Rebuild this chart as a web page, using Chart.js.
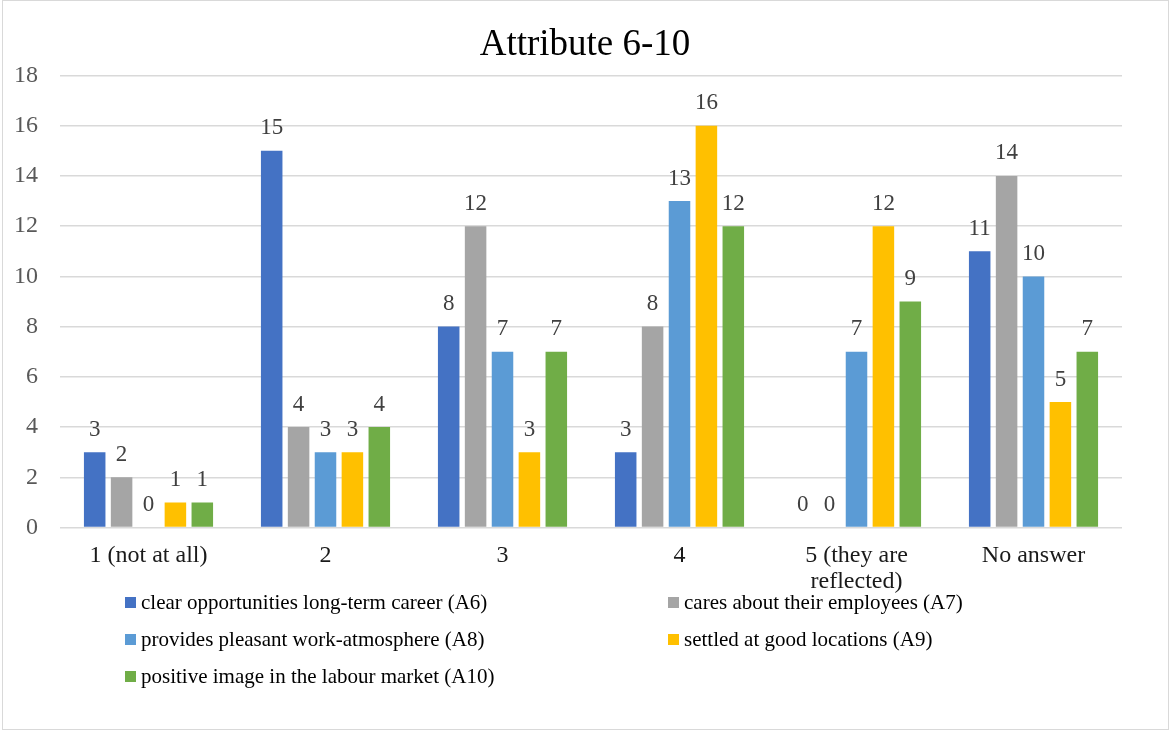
<!DOCTYPE html>
<html>
<head>
<meta charset="utf-8">
<script src="https://cdn.jsdelivr.net/npm/chart.js@4"></script>
<style>
  body { margin: 0; background: #fff; }
  #frame { position: absolute; left: 2px; top: 0; width: 1165px; height: 728px; border: 1.5px solid #d9d9d9; }
  #wrap { position: absolute; left: 0; top: 0; width: 1170px; height: 731px; }
  .leg { position: absolute; font-family: "Liberation Serif", "Times New Roman", serif; font-size: 21px; color: #000; white-space: nowrap; }
  .leg span { display: inline-block; width: 11px; height: 11px; margin-right: 5px; vertical-align: 1px; }
</style>
</head>
<body>
<div id="frame"></div>
<div id="wrap"><canvas id="attrChart"></canvas></div>
<div id="legend"></div>
<script>
//================ data ================
var categories = ['1 (not at all)', '2', '3', '4', ['5 (they are', 'reflected)'], 'No answer'];
var seriesNames = [
    'clear opportunities long-term career (A6)',
    'cares about their employees (A7)',
    'provides pleasant work-atmosphere (A8)',
    'settled at good locations (A9)',
    'positive image in the labour market (A10)'
];
var valuesA6 = [3, 15, 8, 3, 0, 11];
var valuesA7 = [2, 4, 12, 8, 0, 14];
var valuesA8 = [0, 3, 7, 13, 7, 10];
var valuesA9 = [1, 3, 3, 16, 12, 5];
var valuesA10 = [1, 4, 7, 12, 9, 7];
var yTicks = [0, 2, 4, 6, 8, 10, 12, 14, 16, 18];

var colors = ['#4472C4', '#A5A5A5', '#5B9BD5', '#FFC000', '#70AD47'];
var allValues = [valuesA6, valuesA7, valuesA8, valuesA9, valuesA10];

var serif = '"Liberation Serif", "Times New Roman", serif';

//================ value labels above bars ================
var barLabels = {
    id: 'barLabels',
    afterDatasetsDraw: function(chart) {
        var ctx = chart.ctx;
        ctx.save();
        ctx.font = '23px ' + serif;
        ctx.fillStyle = '#404040';
        ctx.textAlign = 'center';
        ctx.textBaseline = 'bottom';
        chart.data.datasets.forEach(function(ds, i) {
            chart.getDatasetMeta(i).data.forEach(function(bar, j) {
                ctx.fillText(ds.data[j], bar.x, bar.y - 11);
            });
        });
        ctx.restore();
    }
};

var datasets = allValues.map(function(v, i) {
    return {
        label: seriesNames[i],
        data: v,
        backgroundColor: colors[i],
        borderWidth: 0,
        barPercentage: 0.8,
        categoryPercentage: 0.76
    };
});

var chrt = document.getElementById('attrChart').getContext('2d');
var attrChart = new Chart(chrt, {
    type: 'bar',
    data: { labels: categories, datasets: datasets },
    options: {
        responsive: true,
        maintainAspectRatio: false,
        animation: false,
        layout: { padding: { left: 14, right: 14, top: 12, bottom: 121 } },
        plugins: {
            legend: { display: false },
            tooltip: { enabled: false },
            title: {
                display: true,
                text: 'Attribute 6-10',
                color: '#000',
                font: { family: serif, size: 37, weight: 'normal' },
                padding: { top: 11, bottom: 8 }
            }
        },
        scales: {
            x: {
                grid: { display: false, drawTicks: false },
                border: { display: false },
                ticks: { color: '#1a1a1a', font: { family: serif, size: 24, lineHeight: 1.05 }, padding: 16, maxRotation: 0 }
            },
            y: {
                min: 0,
                max: 18,
                afterBuildTicks: function(axis) {
                    axis.ticks = yTicks.map(function(v) { return { value: v }; });
                },
                afterFit: function(axis) { axis.width = 46; },
                grid: { color: '#d9d9d9', lineWidth: 1.5, drawTicks: false },
                border: { display: false },
                ticks: { color: '#595959', font: { family: serif, size: 24 }, padding: 22 }
            },
            // empty spacer on the right so the plot ends where the reference does
            yRight: {
                position: 'right',
                afterFit: function(axis) { axis.width = 34; },
                grid: { display: false, drawTicks: false },
                border: { display: false },
                ticks: { display: false }
            }
        }
    },
    plugins: [barLabels]
});

//================ legend (two columns) ================
var legendPos = [[125, 590], [668, 590], [125, 627], [668, 627], [125, 664]];
var legendDiv = document.getElementById('legend');
seriesNames.forEach(function(name, i) {
    var d = document.createElement('div');
    d.className = 'leg';
    d.style.left = legendPos[i][0] + 'px';
    d.style.top = legendPos[i][1] + 'px';
    d.innerHTML = '<span style="background:' + colors[i] + '"></span>' + name;
    legendDiv.appendChild(d);
});
</script>
</body>
</html>
